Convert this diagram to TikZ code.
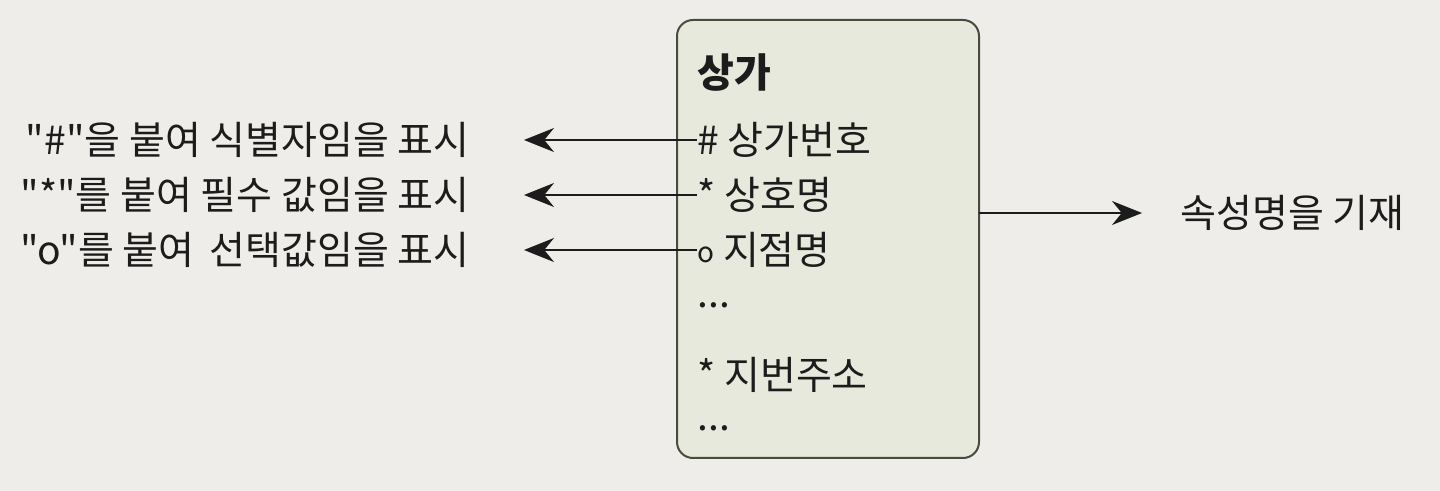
\documentclass[tikz,border=0pt]{standalone}
\usepackage{fontspec}
\setmainfont[Ligatures=TeXOff]{Noto Sans CJK KR}
\usetikzlibrary{arrows.meta}
\definecolor{pagebg}{RGB}{239,237,233}
\definecolor{boxfill}{RGB}{231,233,220}
\definecolor{boxline}{RGB}{72,76,62}
\definecolor{ink}{RGB}{28,28,28}
\tikzset{
  lbl/.style={inner sep=0pt, text=ink, font=\fontsize{19.5}{23}\selectfont},
  item/.style={lbl, anchor=west},
  ptr/.style={draw=ink, line width=0.9pt, -{Stealth[length=15pt,width=12pt]}},
}
\begin{document}
\begin{tikzpicture}[x=0.5pt,y=-0.5pt]
\useasboundingbox (0,0) rectangle (1440,491);
\fill[pagebg] (0,0) rectangle (1440,491);
\draw[boxline, fill=boxfill, line width=1pt, rounded corners=8pt] (677,20) rectangle (979,458);
\node (box) at (828,239) [minimum width=151pt, minimum height=219pt, inner sep=0pt] {};
\node[item, font=\fontsize{20}{23}\selectfont\bfseries] (title) at (697,73) {상가};
\node[item] (i1) at (697,140) {\# 상가번호};
\node[item] (i2) at (697,195) {* 상호명};
\node[item] (i3) at (697,250) {\raisebox{0.05em}{\fontsize{14}{15}\selectfont o} 지점명};
\node[item] (d1) at (697,305) {...};
\node[item] (i4) at (697,375) {* 지번주소};
\node[item] (d2) at (697,428) {...};
\node[lbl, anchor=east] (l1) at (470,140) {"\#"을 붙여 식별자임을 표시};
\node[lbl, anchor=east] (l2) at (470,195) {"*"를 붙여 필수 값임을 표시};
\node[lbl, anchor=east] (l3) at (470,250) {"o"를 붙여 \,선택값임을 표시};
\node[lbl, anchor=west] (r1) at (1180,213) {속성명을 기재};
\draw[ptr, shorten >=27pt] (i1.west) -- (l1.east);
\draw[ptr, shorten >=27pt] (i2.west) -- (l2.east);
\draw[ptr, shorten >=27pt] (i3.west) -- (l3.east);
\draw[ptr, shorten >=19pt] (box.east |- r1.west) -- (r1.west);
\end{tikzpicture}
\end{document}
